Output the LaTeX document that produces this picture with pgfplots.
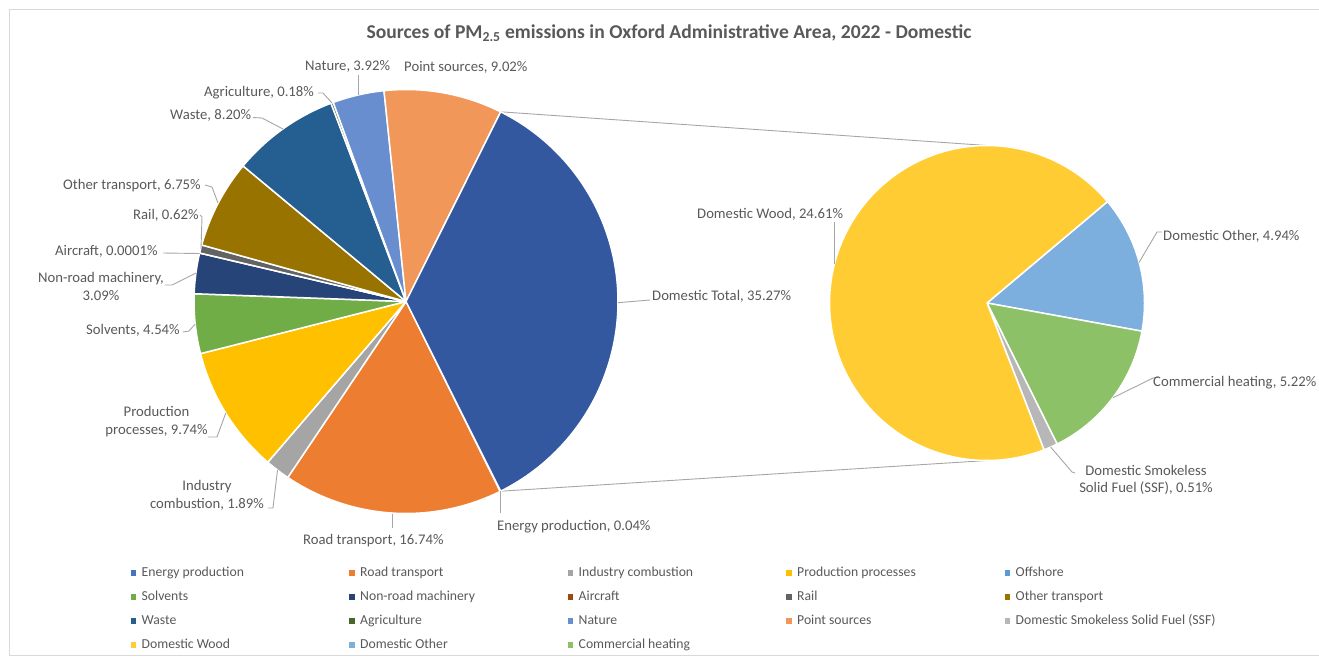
\documentclass[border=0pt]{standalone}
\usepackage{fontspec}
\setmainfont{Carlito}
\usepackage{pgfplots}
\pgfplotsset{compat=1.18}
\definecolor{cEnergy}{HTML}{4472C4}
\definecolor{cRoad}{HTML}{ED7D31}
\definecolor{cIndustry}{HTML}{A5A5A5}
\definecolor{cProd}{HTML}{FFC000}
\definecolor{cOffshore}{HTML}{5B9BD5}
\definecolor{cSolv}{HTML}{70AD47}
\definecolor{cNonroad}{HTML}{264478}
\definecolor{cAir}{HTML}{9E480E}
\definecolor{cRail}{HTML}{636363}
\definecolor{cOther}{HTML}{997300}
\definecolor{cWaste}{HTML}{255E91}
\definecolor{cAgri}{HTML}{43682B}
\definecolor{cNature}{HTML}{698ED0}
\definecolor{cPoint}{HTML}{F1975A}
\definecolor{cSSF}{HTML}{B7B7B7}
\definecolor{cWood}{HTML}{FFCD33}
\definecolor{cDomOther}{HTML}{7CAFDD}
\definecolor{cComm}{HTML}{8CC168}
\definecolor{cDomTot}{HTML}{3358A0}
\definecolor{txt}{HTML}{595959}
\definecolor{lead}{HTML}{A6A6A6}
\definecolor{frame}{HTML}{D9D9D9}
\newcommand\lbl{\fontsize{14.7}{17}\selectfont}
\pgfplotsset{sq/.style={legend image code/.code={\fill[##1] (0pt,1pt) rectangle (5.5pt,6.5pt);}},
  leader/.style={forget plot, draw=lead, line width=0.9pt, no markers}}
% slice: cx cy r lo hi colour samples
\newcommand\slice[7]{%
  \edef\tmp{\noexpand\addplot[forget plot,fill=#6,draw=white,line width=1.5pt,line join=round,domain=#4:#5,samples=#7] ({#1+#3*cos(x)},{#2-#3*sin(x)}) -- (axis cs:#1,#2) -- cycle;}%
  \tmp}
\begin{document}
\begin{tikzpicture}
\begin{axis}[
  width=1319pt, height=657pt, scale only axis,
  xmin=0, xmax=1319, ymin=0, ymax=657, y dir=reverse,
  hide axis, clip=false,
  legend columns=5,
  legend style={draw=none, fill=none, inner sep=0pt, outer sep=0pt,
    at={(axis cs:130.7,567.2)}, anchor=north west,
    font=\fontsize{13.7}{16}\selectfont, text=txt, row sep=11.5pt,
    nodes={inner sep=0pt, outer sep=0pt, text height=9.5pt, text depth=3pt, anchor=base west},
    cells={anchor=base west},
    /tikz/every odd column/.style={column sep=5.5pt},
    /tikz/every even column/.style={column sep=7.5pt}},
]
% legend
\addlegendimage{sq, fill=cEnergy, draw=none}\addlegendentry{\makebox[200pt][l]{Energy production}}
\addlegendimage{sq, fill=cRoad, draw=none}\addlegendentry{\makebox[200pt][l]{Road transport}}
\addlegendimage{sq, fill=cIndustry, draw=none}\addlegendentry{\makebox[200pt][l]{Industry combustion}}
\addlegendimage{sq, fill=cProd, draw=none}\addlegendentry{\makebox[200pt][l]{Production processes}}
\addlegendimage{sq, fill=cOffshore, draw=none}\addlegendentry{Offshore}
\addlegendimage{sq, fill=cSolv, draw=none}\addlegendentry{Solvents}
\addlegendimage{sq, fill=cNonroad, draw=none}\addlegendentry{Non-road machinery}
\addlegendimage{sq, fill=cAir, draw=none}\addlegendentry{Aircraft}
\addlegendimage{sq, fill=cRail, draw=none}\addlegendentry{Rail}
\addlegendimage{sq, fill=cOther, draw=none}\addlegendentry{Other transport}
\addlegendimage{sq, fill=cWaste, draw=none}\addlegendentry{Waste}
\addlegendimage{sq, fill=cAgri, draw=none}\addlegendentry{Agriculture}
\addlegendimage{sq, fill=cNature, draw=none}\addlegendentry{Nature}
\addlegendimage{sq, fill=cPoint, draw=none}\addlegendentry{Point sources}
\addlegendimage{sq, fill=cSSF, draw=none}\addlegendentry{Domestic Smokeless Solid Fuel (SSF)}
\addlegendimage{sq, fill=cWood, draw=none}\addlegendentry{Domestic Wood}
\addlegendimage{sq, fill=cDomOther, draw=none}\addlegendentry{Domestic Other}
\addlegendimage{sq, fill=cComm, draw=none}\addlegendentry{Commercial heating}

% frame
\draw[frame, line width=0.8pt] (axis cs:9.5,9.5) rectangle (axis cs:1400,655.5);

% connector lines
\addplot[leader] coordinates {(500.6,111.8) (987,145.5)};
\addplot[leader] coordinates {(500.6,491.2) (987,460.5)};

% main pie (percent of total)
\xdef\cur{-63.486}
\foreach \v/\c in {0.04/cEnergy,16.74/cRoad,1.89/cIndustry,9.74/cProd,0/cOffshore,4.54/cSolv,3.09/cNonroad,0.0001/cAir,0.62/cRail,6.75/cOther,8.20/cWaste,0.18/cAgri,3.92/cNature,9.02/cPoint}{%
  \pgfmathsetmacro\spn{\v*3.6}%
  \pgfmathsetmacro\lo{\cur-\spn}%
  \pgfmathtruncatemacro\ns{\spn/1.5+3}%
  \ifdim\spn pt>0pt \slice{406}{301.5}{212}{\lo}{\cur}{\c}{\ns}\fi
  \xdef\cur{\lo}%
}
\slice{406}{301.5}{212}{-63.486}{63.486}{cDomTot}{90}

% secondary pie (Domestic total = 35.28)
\xdef\cur{40.1}
\foreach \v/\c in {4.94/cDomOther,5.22/cComm,0.51/cSSF,24.61/cWood}{%
  \pgfmathsetmacro\spn{\v*360/35.28}%
  \pgfmathsetmacro\lo{\cur-\spn}%
  \pgfmathtruncatemacro\ns{\spn/1.5+3}%
  \slice{987}{303}{157.5}{\lo}{\cur}{\c}{\ns}%
  \xdef\cur{\lo}%
}

% leader lines
\addplot[leader] coordinates {(358.3,75) (358.3,95)};
\addplot[leader] coordinates {(318,93) (323,93) (332,103)};
\addplot[leader] coordinates {(253,117.5) (262,118) (283,129)};
\addplot[leader] coordinates {(205,185) (212,187) (218,203)};
\addplot[leader] coordinates {(200,215) (202,217) (201,249)};
\addplot[leader] coordinates {(163,253) (199.6,253.5)};
\addplot[leader] coordinates {(165,285) (172,285) (196,273)};
\addplot[leader] coordinates {(183,332) (189,331) (195.2,324)};
\addplot[leader] coordinates {(208,437) (217,437) (225.8,413)};
\addplot[leader] coordinates {(268,508) (273,508) (277.5,470)};
\addplot[leader] coordinates {(392,514) (392,528)};
\addplot[leader] coordinates {(500.4,491.3) (500.4,513)};
\addplot[leader] coordinates {(618,302.7) (650,300)};
\addplot[leader] coordinates {(834,222) (834,264)};
\addplot[leader] coordinates {(1162,232) (1157,232) (1139,262.5)};
\addplot[leader] coordinates {(1158,377) (1153,378) (1113,397.7)};
\addplot[leader] coordinates {(1075,473) (1072,472) (1050.6,447)};

% title
\node[anchor=base, text=txt, font=\bfseries\fontsize{19.6}{23}\selectfont] at (axis cs:669,38.5) {Sources of PM\textsubscript{2.5} emissions in Oxford Administrative Area, 2022 - Domestic};

% data labels
\begin{scope}[every node/.style={text=txt, font=\lbl, inner sep=0pt}]
\node[anchor=base west] at (axis cs:305,70) {Nature, 3.92\%};
\node[anchor=base west] at (axis cs:404,71) {Point sources, 9.02\%};
\node[anchor=base west] at (axis cs:204,96.5) {Agriculture, 0.18\%};
\node[anchor=base west] at (axis cs:170,119) {Waste, 8.20\%};
\node[anchor=base west] at (axis cs:63,189) {Other transport, 6.75\%};
\node[anchor=base west] at (axis cs:133,219) {Rail, 0.62\%};
\node[anchor=base west] at (axis cs:55,255) {Aircraft, 0.0001\%};
\node[anchor=base] at (axis cs:101,282) {Non-road machinery,};
\node[anchor=base] at (axis cs:101,300.5) {3.09\%};
\node[anchor=base west] at (axis cs:86,334) {Solvents, 4.54\%};
\node[anchor=base] at (axis cs:156.5,416) {Production};
\node[anchor=base] at (axis cs:156.5,434.5) {processes, 9.74\%};
\node[anchor=base] at (axis cs:207,490) {Industry};
\node[anchor=base] at (axis cs:207,508) {combustion, 1.89\%};
\node[anchor=base west] at (axis cs:303,544) {Road transport, 16.74\%};
\node[anchor=base west] at (axis cs:497,530) {Energy production, 0.04\%};
\node[anchor=base west] at (axis cs:652,300.5) {Domestic Total, 35.27\%};
\node[anchor=base west] at (axis cs:697,218.3) {Domestic Wood, 24.61\%};
\node[anchor=base west] at (axis cs:1163,240) {Domestic Other, 4.94\%};
\node[anchor=base west] at (axis cs:1153,386.5) {Commercial heating, 5.22\%};
\node[anchor=base] at (axis cs:1146,475) {Domestic Smokeless};
\node[anchor=base] at (axis cs:1146,492.7) {Solid Fuel (SSF), 0.51\%};
\end{scope}
\end{axis}
\pgfresetboundingbox
\path (0,0) rectangle (1319pt,657pt);
\end{tikzpicture}
\end{document}
